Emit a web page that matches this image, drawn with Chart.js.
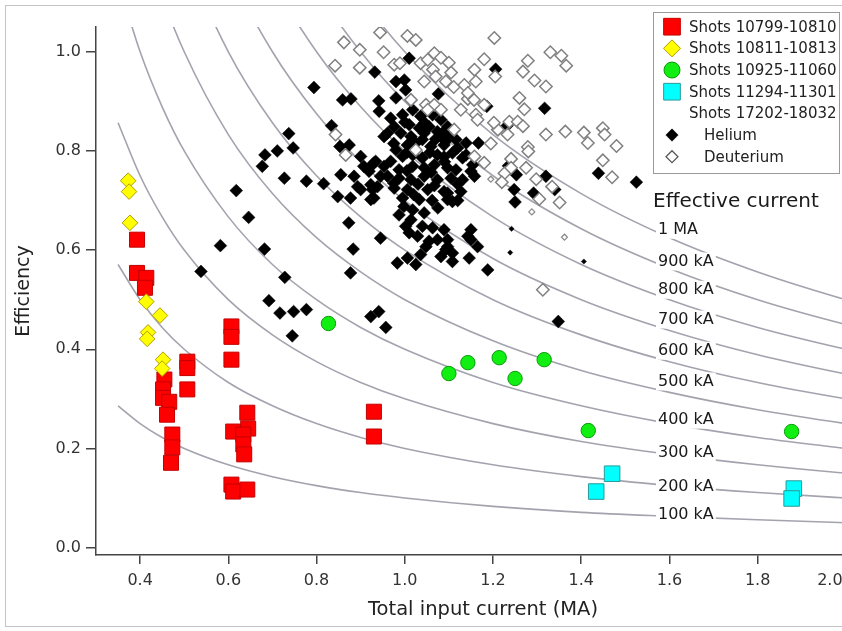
<!DOCTYPE html>
<html><head><meta charset="utf-8">
<script src="https://cdn.jsdelivr.net/npm/chart.js@4.4.1/dist/chart.umd.min.js"></script>
<style>
html,body{margin:0;padding:0;background:#fff;overflow:hidden;}
#wrap{position:relative;width:902px;height:631px;}
</style></head><body>
<div id="wrap"><canvas id="c"></canvas></div>
<script>
// ---------- data ----------
const xTicks = [0.4, 0.6, 0.8, 1.0, 1.2, 1.4, 1.6, 1.8, 2.0];
const yTicks = [0, 0.2, 0.4, 0.6, 0.8, 1.0];

const shots10799_10810 = [[0.393,0.621],[0.393,0.554],[0.414,0.544],[0.411,0.524],[0.455,0.339],[0.452,0.319],[0.452,0.302],[0.466,0.294],[0.461,0.268],[0.473,0.228],[0.473,0.202],[0.470,0.171],[0.507,0.375],[0.507,0.362],[0.507,0.319],[0.607,0.446],[0.607,0.425],[0.607,0.379],[0.643,0.272],[0.611,0.234],[0.645,0.240],[0.634,0.228],[0.634,0.208],[0.636,0.188],[0.607,0.127],[0.611,0.113],[0.643,0.117],[0.930,0.274],[0.930,0.224]];
const shots10811_10813 = [[0.373,0.740],[0.375,0.718],[0.377,0.655],[0.414,0.496],[0.445,0.468],[0.418,0.434],[0.416,0.421],[0.452,0.379],[0.450,0.361]];
const shots10925_11060 = [[0.827,0.452],[1.100,0.351],[1.143,0.373],[1.214,0.383],[1.250,0.341],[1.316,0.379],[1.416,0.236],[1.877,0.234]];
const shots11294_11301 = [[1.434,0.113],[1.470,0.149],[1.882,0.119],[1.877,0.099]];

const helium = [[0.538,0.557],[0.582,0.609],[0.618,0.720],[0.646,0.666],[0.682,0.602],[0.728,0.545],[0.692,0.498],[0.717,0.473],[0.748,0.476],[0.777,0.480],[0.745,0.427],[0.677,0.769],[0.683,0.792],[0.711,0.800],[0.737,0.835],[0.747,0.806],[0.727,0.745],[0.777,0.739],[0.816,0.734],[0.794,0.928],[0.834,0.851],[0.859,0.903],[0.878,0.905],[0.932,0.959],[0.941,0.901],[1.010,0.987],[0.980,0.940],[0.999,0.943],[1.002,0.923],[0.980,0.907],[0.942,0.880],[0.853,0.809],[0.874,0.812],[0.855,0.752],[0.848,0.708],[0.877,0.705],[0.900,0.722],[0.923,0.702],[0.900,0.789],[0.923,0.769],[0.934,0.779],[0.945,0.749],[0.938,0.728],[0.953,0.829],[0.873,0.655],[0.945,0.624],[0.883,0.602],[0.877,0.554],[0.983,0.574],[1.006,0.584],[1.025,0.571],[0.987,0.671],[1.014,0.661],[1.002,0.648],[1.150,0.641],[1.143,0.628],[1.165,0.607],[1.146,0.584],[1.188,0.560],[1.186,0.890],[1.317,0.886],[1.206,0.965],[1.076,0.915],[1.167,0.816],[1.232,0.851],[1.235,0.770],[1.253,0.752],[1.248,0.722],[1.250,0.697],[1.292,0.715],[1.320,0.749],[1.340,0.722],[1.439,0.755],[1.525,0.737],[1.348,0.456],[1.127,0.718],[1.089,0.641],[1.097,0.621],[1.093,0.601],[1.108,0.594],[1.108,0.577],[1.108,0.698],[1.097,0.715],[0.923,0.466],[0.941,0.476],[0.957,0.444],
[0.968,0.866],[0.995,0.873],[1.018,0.883],[1.036,0.870],[1.063,0.873],[1.082,0.863],[0.976,0.849],[1.010,0.853],[1.033,0.846],[1.055,0.849],[1.074,0.839],[1.097,0.849],[0.961,0.836],[0.991,0.836],[1.014,0.829],[1.044,0.836],[1.082,0.829],[1.116,0.823],[0.980,0.802],[1.006,0.812],[1.025,0.816],[1.059,0.809],[1.089,0.812],[1.120,0.806],[1.139,0.816],[0.968,0.779],[0.995,0.789],[1.018,0.792],[1.040,0.786],[1.074,0.792],[1.108,0.796],[1.131,0.786],[1.154,0.772],[0.930,0.776],[0.953,0.769],[0.987,0.762],[1.018,0.769],[1.044,0.766],[1.067,0.772],[1.097,0.766],[1.116,0.762],[1.150,0.759],[0.961,0.749],[0.987,0.745],[1.014,0.742],[1.044,0.749],[1.074,0.742],[1.105,0.745],[1.131,0.742],[1.158,0.749],[0.893,0.728],[0.927,0.722],[0.976,0.725],[1.006,0.722],[1.052,0.722],[1.089,0.718],[0.930,0.705],[0.995,0.705],[1.033,0.702],[1.097,0.702],[0.998,0.688],[1.018,0.681],[1.044,0.675],[1.040,0.648],[1.063,0.645],[1.029,0.628],[1.055,0.618],[1.074,0.621],[1.097,0.607],[1.150,0.621],[1.048,0.607],[1.036,0.591],[1.082,0.587],[0.919,0.759],[0.885,0.749],[0.923,0.732],[0.907,0.769],[1.089,0.788],[1.139,0.792],
[1.000,0.858],[1.045,0.857],[1.090,0.840],[0.975,0.815],[1.040,0.823],[1.070,0.824],[1.100,0.826],[1.005,0.797],[1.057,0.797],[1.090,0.778],[0.975,0.735],[1.030,0.733],[1.067,0.730],[1.120,0.733],[1.005,0.760],[1.060,0.757],[1.020,0.712],[1.062,0.700],[1.075,0.685],[1.010,0.635],[1.120,0.700]];
const heliumSmall = [[1.242,0.643],[1.239,0.595],[1.406,0.577]];

const deuterium = [[0.944,1.039],[1.006,1.032],[1.025,1.024],[0.862,1.019],[0.898,1.004],[0.952,0.999],[0.842,0.972],[0.898,0.968],[0.976,0.974],[0.989,0.977],[1.036,0.977],[1.052,0.984],[1.067,0.997],[1.044,0.940],[1.014,0.903],[1.048,0.893],[1.067,0.893],[0.843,0.833],[0.866,0.792],[1.203,1.028],[1.082,0.988],[1.100,0.978],[1.064,0.964],[1.105,0.958],[1.093,0.940],[1.111,0.929],[1.180,0.985],[1.158,0.964],[1.135,0.933],[1.161,0.940],[1.205,0.950],[1.279,0.982],[1.268,0.960],[1.330,0.999],[1.355,0.992],[1.366,0.972],[1.294,0.942],[1.320,0.930],[1.260,0.907],[1.271,0.884],[1.143,0.905],[1.127,0.883],[1.161,0.873],[1.165,0.863],[1.211,0.843],[1.237,0.859],[1.256,0.859],[1.233,0.833],[1.320,0.833],[1.364,0.839],[1.406,0.837],[1.415,0.816],[1.449,0.846],[1.453,0.833],[1.480,0.810],[1.279,0.808],[1.195,0.815],[1.241,0.784],[1.449,0.781],[1.112,0.843],[1.082,0.883],[1.052,0.883],[1.180,0.776],[1.226,0.755],[1.220,0.737],[1.275,0.766],[1.298,0.743],[1.305,0.703],[1.351,0.696],[1.280,0.799],[1.313,0.520],[1.470,0.747],[1.158,0.789],[1.070,0.950],[1.143,0.917],[1.157,0.903],[1.180,0.893],[1.202,0.857],[1.268,0.850],[1.241,0.766],[1.334,0.728],[1.025,0.802]];
const deuteriumSmall = [[1.195,0.743],[1.288,0.677],[1.362,0.626]];

// effective-current curves (efficiency)
const curveX      = [0.35, 0.4, 0.45, 0.5, 0.6, 0.7, 0.8, 0.9, 1.0, 1.2, 1.4, 1.6, 1.8, 2.0, 2.1];
const curve100kA  = [0.286,0.25,0.222,0.2,0.167,0.143,0.125,0.111,0.1,0.083,0.071,0.063,0.056,0.05,0.048];
const curve200kA  = [0.571,0.5,0.444,0.4,0.333,0.286,0.25,0.222,0.2,0.167,0.143,0.125,0.111,0.1,0.095];
const curve300kA  = [0.857,0.75,0.667,0.6,0.5,0.429,0.375,0.333,0.3,0.25,0.214,0.188,0.167,0.15,0.143];
const curve400kA  = [1.143,1.0,0.889,0.8,0.667,0.571,0.5,0.444,0.4,0.333,0.286,0.25,0.222,0.2,0.19];
const curve500kA  = [1.429,1.25,1.111,1.0,0.833,0.714,0.625,0.556,0.5,0.417,0.357,0.313,0.278,0.25,0.238];
const curve600kA  = [1.714,1.5,1.333,1.2,1.0,0.857,0.75,0.667,0.6,0.5,0.429,0.375,0.333,0.3,0.286];
const curve700kA  = [2.0,1.75,1.556,1.4,1.167,1.0,0.875,0.778,0.7,0.583,0.5,0.438,0.389,0.35,0.333];
const curve800kA  = [2.286,2.0,1.778,1.6,1.333,1.143,1.0,0.889,0.8,0.667,0.571,0.5,0.444,0.4,0.381];
const curve900kA  = [2.571,2.25,2.0,1.8,1.5,1.286,1.125,1.0,0.9,0.75,0.643,0.563,0.5,0.45,0.429];
const curve1MA    = [2.857,2.5,2.222,2.0,1.667,1.429,1.25,1.111,1.0,0.833,0.714,0.625,0.556,0.5,0.476];
const curveNames  = ['100 kA','200 kA','300 kA','400 kA','500 kA','600 kA','700 kA','800 kA','900 kA','1 MA'];
const curveLabelEff = [0.067,0.123,0.192,0.258,0.335,0.397,0.460,0.520,0.577,0.641];

// ---------- build ----------
const FONT = "'DejaVu Sans', sans-serif";
const toXY = a => a.map(p => ({x: p[0], y: p[1]}));
const curves = [curve100kA,curve200kA,curve300kA,curve400kA,curve500kA,curve600kA,curve700kA,curve800kA,curve900kA,curve1MA];

const datasets = [];
curves.forEach((c, i) => datasets.push({
  type: 'line', label: curveNames[i], data: curveX.map((x, j) => ({x, y: c[j]})),
  borderColor: 'rgba(158,158,170,0.95)', borderWidth: 1.6, pointRadius: 0, fill: false,
  cubicInterpolationMode: 'monotone', tension: 0.4, order: 20
}));
datasets.push({label:'Shots 10799-10810', data: toXY(shots10799_10810), pointStyle:'rect', pointRadius:10.6,
  backgroundColor:'#ff0000', borderColor:'#c40000', borderWidth:1, order:9});
datasets.push({label:'Shots 10811-10813', data: toXY(shots10811_10813), pointStyle:'rectRot', pointRadius:7.8,
  backgroundColor:'#ffff00', borderColor:'#b39c00', borderWidth:1, order:8});
datasets.push({label:'Helium', data: toXY(helium), pointStyle:'rectRot', pointRadius:6.4,
  backgroundColor:'#000000', borderColor:'#000000', borderWidth:0.5, order:7});
datasets.push({label:'Helium small', data: toXY(heliumSmall), pointStyle:'rectRot', pointRadius:2.6,
  backgroundColor:'#000000', borderColor:'#000000', borderWidth:0.5, order:7});
datasets.push({label:'Deuterium', data: toXY(deuterium), pointStyle:'rectRot', pointRadius:6.2,
  backgroundColor:'#ffffff', borderColor:'#808080', borderWidth:1.5, order:6});
datasets.push({label:'Deuterium small', data: toXY(deuteriumSmall), pointStyle:'rectRot', pointRadius:3,
  backgroundColor:'#ffffff', borderColor:'#8a8a8a', borderWidth:1.2, order:6});
datasets.push({label:'Shots 10925-11060', data: toXY(shots10925_11060), pointStyle:'circle', pointRadius:7.2,
  backgroundColor:'#11ee11', borderColor:'#0a9a0a', borderWidth:1, order:5});
datasets.push({label:'Shots 11294-11301', data: toXY(shots11294_11301), pointStyle:'rect', pointRadius:11,
  backgroundColor:'#00ffff', borderColor:'#2a9a9a', borderWidth:1, order:4});

function marker(ctx, style, x, y, r, fill, stroke, lw) {
  ctx.save(); ctx.beginPath();
  if (style === 'rect') { const s = Math.SQRT1_2 * r; ctx.rect(x - s, y - s, 2*s, 2*s); }
  else if (style === 'rectRot') { ctx.moveTo(x - r, y); ctx.lineTo(x, y - r); ctx.lineTo(x + r, y); ctx.lineTo(x, y + r); ctx.closePath(); }
  else { ctx.arc(x, y, r, 0, Math.PI*2); }
  ctx.fillStyle = fill; ctx.fill();
  ctx.lineWidth = lw; ctx.strokeStyle = stroke; ctx.stroke();
  ctx.restore();
}

const decor = {
  id: 'decor',
  afterDatasetsDraw(chart) {
    const {ctx, scales: {x, y}} = chart;
    ctx.save();
    ctx.font = '16px ' + FONT; ctx.textBaseline = 'middle'; ctx.textAlign = 'left';
    const lx = x.getPixelForValue(1.574);
    curveNames.forEach((n, i) => {
      const py = y.getPixelForValue(curveLabelEff[i]);
      const w = ctx.measureText(n).width;
      ctx.fillStyle = '#fff'; ctx.fillRect(lx - 2, py - 9, w + 4, 18);
      ctx.fillStyle = '#1a1a1a'; ctx.fillText(n, lx, py);
    });
    ctx.font = '20px ' + FONT; ctx.fillStyle = '#1a1a1a';
    ctx.fillText('Effective current', 653, y.getPixelForValue(0.698));
    ctx.restore();
  },
  afterDraw(chart) {
    const {ctx, scales: {x}} = chart;
    ctx.save();
    ctx.font = '16px ' + FONT; ctx.fillStyle = '#333'; ctx.textAlign = 'center'; ctx.textBaseline = 'middle';
    ctx.fillText('2.0', x.getPixelForValue(2.0) - 16, 581);
    // x-axis title, centred where the source figure has it
    ctx.font = '19.5px ' + FONT; ctx.fillStyle = '#222';
    ctx.fillText('Total input current (MA)', 483, 610);
    // legend
    ctx.fillStyle = '#fff'; ctx.fillRect(653, 12, 186, 161);
    ctx.strokeStyle = '#9a9a9a'; ctx.lineWidth = 1; ctx.strokeRect(653.5, 12.5, 186, 161);
    const rows = [
      {t:'Shots 10799-10810', s:'rect', r:11.8, f:'#ff0000', k:'#c40000', lw:1, tx:689},
      {t:'Shots 10811-10813', s:'rectRot', r:8.5, f:'#ffff00', k:'#b39c00', lw:1, tx:689},
      {t:'Shots 10925-11060', s:'circle', r:8, f:'#11ee11', k:'#0a9a0a', lw:1, tx:689},
      {t:'Shots 11294-11301', s:'rect', r:11.8, f:'#00ffff', k:'#2a9a9a', lw:1, tx:689},
      {t:'Shots 17202-18032', s:null, tx:689},
      {t:'Helium', s:'rectRot', r:6.2, f:'#000', k:'#000', lw:0.5, tx:704},
      {t:'Deuterium', s:'rectRot', r:6, f:'#fff', k:'#555', lw:1.2, tx:704}
    ];
    ctx.font = '15px ' + FONT; ctx.textAlign = 'left'; ctx.textBaseline = 'middle';
    rows.forEach((row, i) => {
      const ry = 26.7 + i * 21.67;
      if (row.s) marker(ctx, row.s, 672, ry, row.r, row.f, row.k, row.lw);
      ctx.fillStyle = '#222'; ctx.fillText(row.t, row.tx, ry + 1);
    });
    ctx.strokeStyle = '#c4c4c4'; ctx.lineWidth = 1; ctx.strokeRect(5.5, 5.5, 900, 621);
    ctx.restore();
  }
};

new Chart(document.getElementById('c'), {
  type: 'scatter',
  data: { datasets },
  plugins: [decor],
  options: {
    responsive: true, maintainAspectRatio: false, animation: false, events: [],
    layout: { padding: { top: 27, left: 0, right: 0, bottom: 0 } },
    plugins: { legend: { display: false }, tooltip: { enabled: false } },
    scales: {
      x: {
        type: 'linear', min: 0.3, max: 2.1,
        afterBuildTicks: s => { s.ticks = xTicks.map(v => ({value: v})); },
        afterFit: s => { s.height = 76; },
        ticks: { font: { family: FONT, size: 16 }, color: '#333', padding: 7,
          callback: v => (Math.abs(v - 2.0) < 1e-9 ? '' : v.toFixed(1)) },
        grid: { drawOnChartArea: false, drawTicks: true, tickLength: 9, color: '#444', lineWidth: 1.5 },
        border: { display: true, color: '#444', width: 1.5 },
        title: { display: false, text: 'Total input current (MA)' }
      },
      y: {
        type: 'linear', min: -0.015, max: 1.05,
        afterBuildTicks: s => { s.ticks = yTicks.map(v => ({value: v})); },
        afterFit: s => { s.width = 96; },
        ticks: { font: { family: FONT, size: 16 }, color: '#333', padding: 5, callback: v => v.toFixed(1) },
        grid: { drawOnChartArea: false, drawTicks: true, tickLength: 10, color: '#444', lineWidth: 1.5 },
        border: { display: true, color: '#444', width: 1.5 },
        title: { display: true, text: 'Efficiency', font: { family: FONT, size: 19 }, color: '#222', padding: { top: 13 } }
      }
    }
  }
});
</script>
</body></html>
